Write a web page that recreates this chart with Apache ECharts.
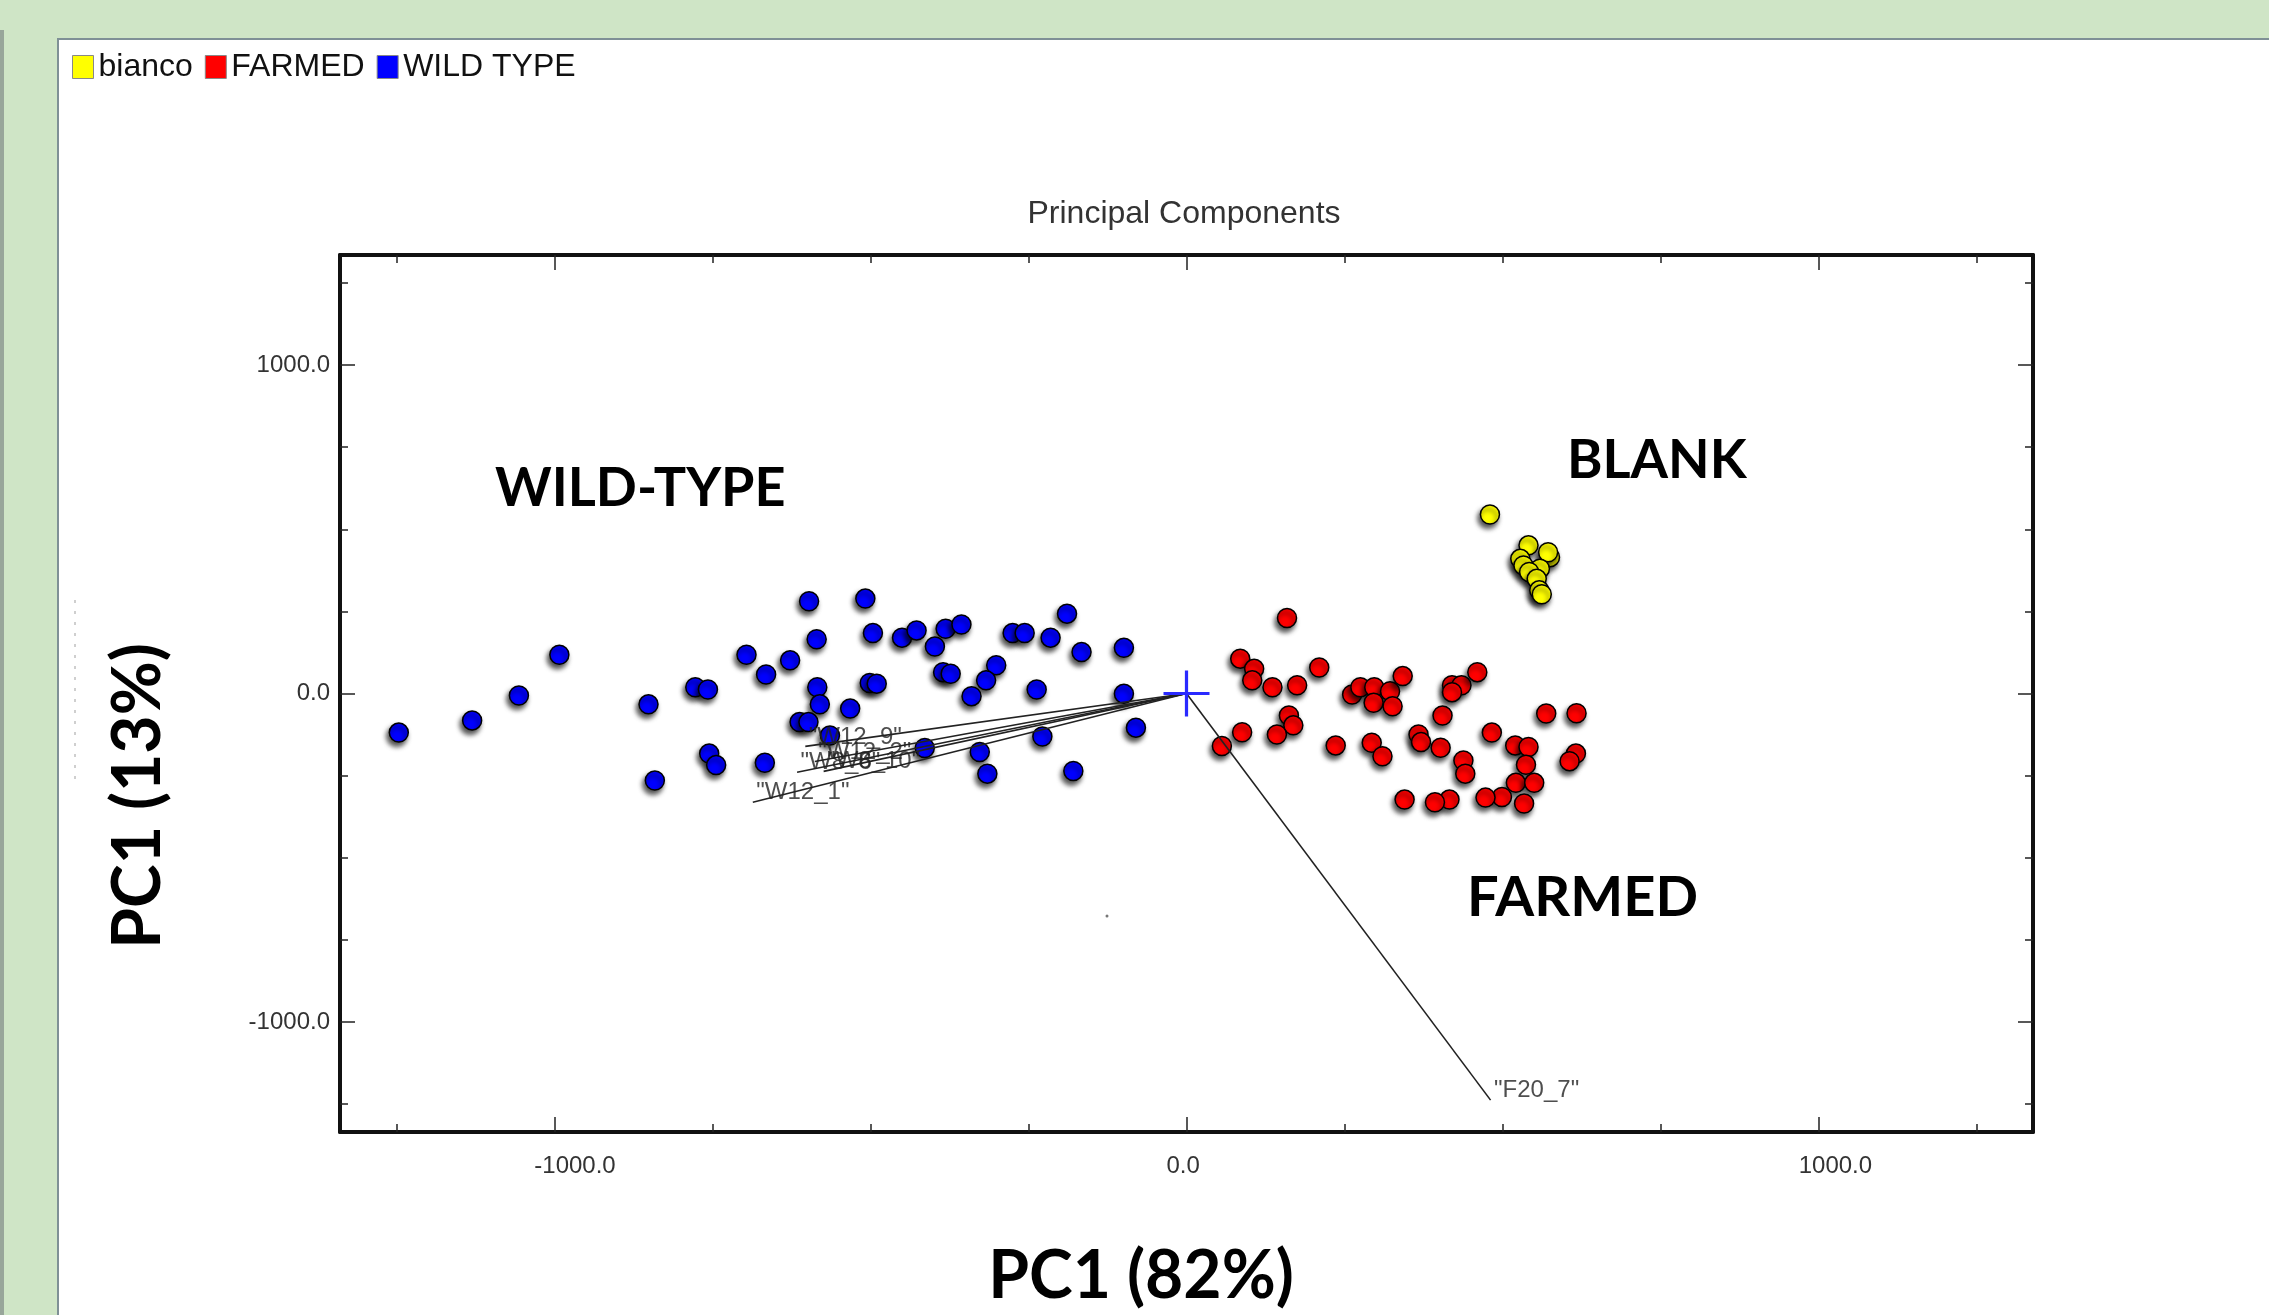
<!DOCTYPE html>
<html>
<head>
<meta charset="utf-8">
<script src="https://cdn.jsdelivr.net/npm/echarts@6/dist/echarts.min.js"></script>
<style>
html,body{margin:0;padding:0;background:#cfe5c6;}
#chart{width:2269px;height:1315px;}
</style>
</head>
<body>
<div id="chart"></div>
<script>
// ---------- data ----------
const seriesNames = ['bianco', 'FARMED', 'WILD TYPE'];
const seriesColors = ['#ffff00', '#ff0000', '#0000ff'];

const blankPoints = [
  [480,545],[541,451],[575,415],[572,430],[528,410],[533,390],
  [559,380],[542,370],[554,349],[558,314],[562,302]
];

const farmedPoints = [
  [159,230],[85,106],[107,75],[104,40],[136,19],[175,25],[210,79],
  [162,-67],[169,-97],[88,-118],[143,-125],[56,-160],[236,-158],
  [262,-3],[275,19],[297,19],[322,7],[342,53],[296,-28],[326,-39],
  [293,-150],[310,-191],[367,-125],[371,-148],[402,-165],[405,-67],
  [420,25],[435,25],[420,4],[460,65],[438,-204],[441,-244],
  [483,-119],[520,-158],[541,-163],[537,-217],[521,-272],[550,-272],
  [534,-335],[499,-315],[473,-317],[416,-323],[393,-331],[345,-323],
  [569,-61],[617,-60],[616,-183],[606,-206]
];

const wildPoints = [
  [-1246,-119],[-1130,-82],[-1056,-6],[-992,118],[-851,-33],[-777,19],
  [-757,12],[-696,118],[-841,-265],[-755,-183],[-744,-218],
  [-597,281],[-508,289],[-189,243],[-665,58],[-627,101],[-585,165],
  [-496,184],[-450,170],[-427,192],[-381,197],[-356,210],[-398,143],
  [-275,184],[-256,184],[-215,170],[-166,126],[-99,139],
  [-584,19],[-580,-33],[-532,-46],[-501,32],[-490,30],[-385,65],
  [-373,60],[-301,86],[-317,40],[-340,-8],[-237,12],[-99,-1],
  [-612,-87],[-598,-87],[-564,-128],[-667,-211],[-414,-166],
  [-327,-178],[-315,-244],[-228,-131],[-179,-236],[-80,-104]
];

// loading vectors (biplot) drawn from origin
const loadingNames = ['"W12_9"', '"W12_2"', '"W8_6"', '"W8_10"', '"W12_1"', '"F20_7"'];
const loadingX = [-603, -588, -616, -574, -686, 481];
const loadingY = [-161, -207, -240, -237, -331, -1238];

// axis ticks
const xMajorTicks = [-1000, 0, 1000];
const xMinorTicks = [-1250, -750, -500, -250, 250, 500, 750, 1250];
const yMajorTicks = [-1000, 0, 1000];
const yMinorTicks = [-1250, -750, -500, -250, 250, 500, 750, 1250];
const xRange = [-1339, 1339];
const yRange = [-1335, 1335];

// annotation texts
const chartTitle = 'Principal Components';
const xAxisTitle = 'PC1 (82%)';
const yAxisTitle = 'PC1 (13%)';
const groupLabels = ['WILD-TYPE', 'BLANK', 'FARMED'];

// ---------- chart ----------
const chart = echarts.init(document.getElementById('chart'));
const labelFont = '"Liberation Sans", Arial, sans-serif';
const boldFont = 'Lato, Roboto, "Open Sans", sans-serif';
const frameColor = '#111';

function makeAxis(kind, pos, ticks, tickLen, showLine, showLabels) {
  const range = kind === 'x' ? xRange : yRange;
  const ax = {
    type: 'value',
    position: pos,
    gridIndex: 0,
    min: range[0],
    max: range[1],
    axisLine: { show: showLine, onZero: false, lineStyle: { color: frameColor, width: 4 } },
    axisTick: { show: true, inside: true, length: tickLen, customValues: ticks,
                lineStyle: { color: '#222', width: 1.5 } },
    splitLine: { show: false },
    axisLabel: { show: false }
  };
  if (showLabels) {
    ax.axisLabel = {
      show: true,
      customValues: ticks,
      formatter: v => v.toFixed(1),
      fontFamily: labelFont,
      fontSize: 24,
      color: '#333'
    };
    if (kind === 'x') {
      ax.axisLabel.align = 'left';
      ax.axisLabel.padding = [0, 0, 0, -20];
      ax.axisLabel.margin = 22;
    } else {
      ax.axisLabel.margin = 10;
    }
  }
  return ax;
}

const scatterStyle = (color) => ({
  color: color,
  opacity: 1,
  borderColor: '#000',
  borderWidth: 1.5,
  shadowColor: 'rgba(0,0,0,0.7)',
  shadowBlur: 5,
  shadowOffsetX: -2,
  shadowOffsetY: 4
});

const series = [];
[blankPoints, farmedPoints, wildPoints].forEach((pts, i) => {
  series.push({
    name: seriesNames[i],
    type: 'scatter',
    xAxisIndex: 0, yAxisIndex: 0,
    symbol: 'circle',
    symbolSize: 19,
    itemStyle: scatterStyle(seriesColors[i]),
    data: pts,
    z: 3
  });
});

loadingNames.forEach((n, i) => {
  series.push({
    name: 'loading ' + n,
    type: 'line',
    xAxisIndex: 0, yAxisIndex: 0,
    showSymbol: false,
    symbol: 'none',
    silent: true,
    lineStyle: { color: '#222', width: 1.6 },
    data: [[0, 0], [loadingX[i], loadingY[i]]],
    z: 5
  });
});

series.push({
  name: 'loading labels',
  type: 'scatter',
  xAxisIndex: 0, yAxisIndex: 0,
  symbolSize: 1,
  itemStyle: { color: 'rgba(0,0,0,0)' },
  silent: true,
  data: loadingNames.map((n, i) => ({ name: n, value: [loadingX[i], loadingY[i]] })),
  label: {
    show: true,
    position: [4, -21],
    formatter: p => p.name,
    fontFamily: labelFont,
    fontSize: 24,
    color: '#222'
  },
  z: 6
});

// origin cross
series.push({
  name: 'origin',
  type: 'scatter',
  xAxisIndex: 0, yAxisIndex: 0,
  symbol: 'path://M9.3,0h1.4v20h-1.4zM0,9.3h20v1.4h-20z',
  symbolSize: 46,
  silent: true,
  itemStyle: { color: '#2a2aff', opacity: 1 },
  data: [[0, 0]],
  z: 7
});

const option = {
  backgroundColor: '#cfe5c6',
  animation: false,
  grid: { left: 340, top: 255, width: 1693, height: 877, containLabel: false },
  legend: {
    data: seriesNames,
    left: 72,
    top: 51,
    padding: 0,
    icon: 'rect',
    itemWidth: 21,
    itemHeight: 23,
    itemGap: 12,
    itemStyle: { borderColor: '#888', borderWidth: 1, opacity: 1, shadowBlur: 0, shadowOffsetX: 0, shadowOffsetY: 0 },
    textStyle: { fontFamily: labelFont, fontSize: 32, color: '#111' },
    selectedMode: false
  },
  xAxis: [
    makeAxis('x', 'bottom', xMajorTicks, 15, true, true),
    makeAxis('x', 'bottom', xMinorTicks, 8, false, false),
    makeAxis('x', 'top', xMajorTicks, 15, true, false),
    makeAxis('x', 'top', xMinorTicks, 8, false, false)
  ],
  yAxis: [
    makeAxis('y', 'left', yMajorTicks, 15, true, true),
    makeAxis('y', 'left', yMinorTicks, 8, false, false),
    makeAxis('y', 'right', yMajorTicks, 15, true, false),
    makeAxis('y', 'right', yMinorTicks, 8, false, false)
  ],
  graphic: [
    { type: 'rect', z: -10, shape: { x: 58, y: 39, width: 2260, height: 1300 },
      style: { fill: '#ffffff', stroke: '#7f9096', lineWidth: 2 } },
    { type: 'rect', z: -10, shape: { x: 0, y: 30, width: 4, height: 1290 },
      style: { fill: '#98a69a' } },
    { type: 'line', z: -5, shape: { x1: 75, y1: 600, x2: 75, y2: 782 },
      style: { stroke: '#cfcfcf', lineWidth: 2, lineDash: [3, 8] } },
    { type: 'circle', z: -5, shape: { cx: 1107, cy: 916, r: 1.5 }, style: { fill: '#777' } },
    { type: 'text', z: 1, style: { text: chartTitle, x: 1184, y: 214, textAlign: 'center', textVerticalAlign: 'middle',
      font: '32px ' + labelFont, fill: '#333' } },
    { type: 'text', z: 1, style: { text: groupLabels[0], x: 495, y: 489, textAlign: 'left', textVerticalAlign: 'middle',
      font: 'bold 54px ' + boldFont, fill: '#000' } },
    { type: 'text', z: 1, style: { text: groupLabels[1], x: 1567, y: 461, textAlign: 'left', textVerticalAlign: 'middle',
      font: 'bold 54px ' + boldFont, fill: '#000' } },
    { type: 'text', z: 1, style: { text: groupLabels[2], x: 1467, y: 898, textAlign: 'left', textVerticalAlign: 'middle',
      font: 'bold 56px ' + boldFont, fill: '#000' } },
    { type: 'text', z: 1, style: { text: xAxisTitle, x: 1141, y: 1277, textAlign: 'center', textVerticalAlign: 'middle',
      font: 'bold 66px ' + boldFont, fill: '#000' } },
    { type: 'text', z: 1, x: 139, y: 796, rotation: Math.PI / 2,
      style: { text: yAxisTitle, x: 0, y: 0, textAlign: 'center', textVerticalAlign: 'middle',
      font: 'bold 66px ' + boldFont, fill: '#000' } }
  ],
  series: series
};
chart.setOption(option);
</script>
</body>
</html>
